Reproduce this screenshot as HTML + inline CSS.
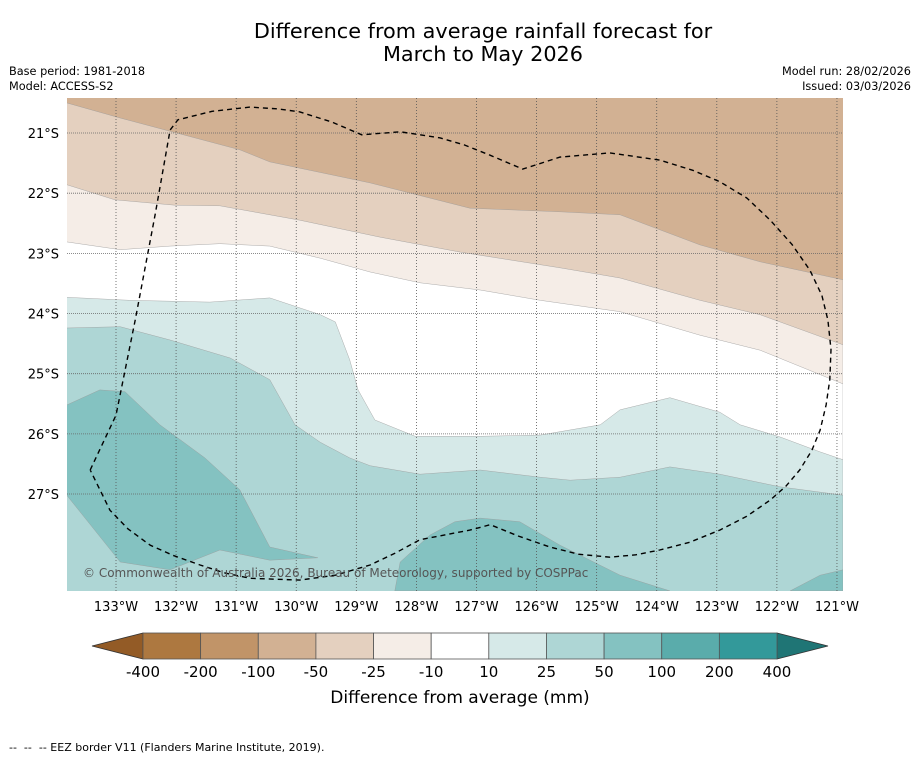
<!DOCTYPE html>
<html><head><meta charset="utf-8"><style>
body{margin:0;background:#fff;width:919px;height:758px;overflow:hidden;font-family:"DejaVu Sans","Liberation Sans",sans-serif}
svg{display:block}
</style></head><body>
<svg id="svg" width="919" height="758" xmlns="http://www.w3.org/2000/svg">
<text x="483" y="38" text-anchor="middle" font-size="20.8">Difference from average rainfall forecast for</text>
<text x="483" y="61" text-anchor="middle" font-size="20.8">March to May 2026</text>
<text x="9" y="75" font-size="11.3">Base period: 1981-2018</text>
<text x="9" y="90" font-size="11.3">Model: ACCESS-S2</text>
<text x="911" y="75" font-size="11.3" text-anchor="end">Model run: 28/02/2026</text>
<text x="911" y="90" font-size="11.3" text-anchor="end">Issued: 03/03/2026</text>
<defs><clipPath id="mapclip"><rect x="67" y="98" width="776" height="493"/></clipPath></defs>
<g id="map" clip-path="url(#mapclip)"></g>
<g id="axes"></g>
<g id="cbar"></g>
<text x="460" y="703" text-anchor="middle" font-size="17">Difference from average (mm)</text>
<text x="9" y="751" font-size="11" xml:space="preserve">--  --  -- EEZ border V11 (Flanders Marine Institute, 2019).</text>
</svg>
<script>
const lonTicks=[133,132,131,130,129,128,127,126,125,124,123,122,121];
const latTicks=[21,22,23,24,25,26,27];
const boundary1=[[133.82,20.50],[132.93,20.75],[130.94,21.28],[130.44,21.48],[128.77,21.83],[127.11,22.25],[125.61,22.31],[124.61,22.36],[123.28,22.86],[122.28,23.14],[120.90,23.44]];
const boundary2=[[133.82,21.86],[133.02,22.11],[132.02,22.20],[131.27,22.21],[129.94,22.45],[128.61,22.73],[127.27,22.98],[125.61,23.24],[124.61,23.41],[123.28,23.78],[122.28,24.02],[120.90,24.52]];
const boundary3=[[133.82,22.81],[132.93,22.94],[132.10,22.88],[131.27,22.84],[130.44,22.88],[129.60,23.08],[128.77,23.31],[127.94,23.49],[126.94,23.61],[125.94,23.78],[124.61,23.97],[123.28,24.36],[122.28,24.61],[120.90,25.17]];
const boundary4=[[133.82,23.73],[132.77,23.78],[131.44,23.81],[130.44,23.74],[129.60,24.02],[129.35,24.14],[129.11,24.77],[128.97,25.27],[128.69,25.77],[128.02,26.04],[126.94,26.04],[125.94,26.02],[124.94,25.85],[124.61,25.60],[123.78,25.40],[122.95,25.64],[122.61,25.85],[121.95,26.05],[121.28,26.30],[120.90,26.43]];
const boundary5=[[133.82,24.24],[132.93,24.22],[132.10,24.44],[131.10,24.74],[130.44,25.10],[130.02,25.85],[129.60,26.14],[129.11,26.40],[128.77,26.53],[127.94,26.67],[126.94,26.60],[125.94,26.72],[125.44,26.77],[124.61,26.72],[123.78,26.55],[122.95,26.67],[121.95,26.88],[120.90,27.02]];
const blobA=[[133.82,25.52],[133.27,25.27],[132.85,25.30],[132.27,25.85],[131.52,26.40],[130.94,26.93],[130.44,27.88],[129.64,28.06],[130.44,28.10],[131.27,27.93],[132.10,28.26],[132.93,28.13],[133.82,27.02]];
const blobB=[[128.36,28.61],[128.27,28.13],[127.77,27.68],[127.36,27.46],[126.94,27.40],[126.28,27.46],[125.61,27.85],[124.61,28.35],[123.78,28.61]];
const blobC=[[121.78,28.61],[121.28,28.35],[120.90,28.26],[120.90,28.61]];
const eez=[[133.43,26.60],[133.00,25.69],[132.68,24.11],[132.35,22.36],[132.10,20.95],[131.97,20.78],[131.40,20.64],[130.77,20.57],[130.30,20.60],[129.94,20.65],[129.40,20.82],[128.91,21.03],[128.27,20.98],[127.61,21.08],[127.20,21.20],[126.77,21.37],[126.23,21.60],[125.61,21.40],[124.78,21.33],[123.95,21.45],[123.40,21.62],[122.95,21.81],[122.50,22.08],[122.11,22.45],[121.75,22.85],[121.45,23.28],[121.25,23.70],[121.15,24.11],[121.10,24.60],[121.12,25.10],[121.18,25.52],[121.28,25.94],[121.42,26.28],[121.62,26.60],[121.85,26.87],[122.11,27.10],[122.50,27.37],[122.95,27.60],[123.45,27.80],[123.95,27.93],[124.35,28.01],[124.78,28.05],[125.30,28.00],[125.78,27.88],[126.30,27.70],[126.77,27.51],[127.11,27.60],[127.94,27.76],[128.35,27.98],[128.77,28.18],[129.35,28.35],[129.94,28.43],[130.77,28.40],[131.20,28.31],[131.60,28.18],[132.05,28.02],[132.43,27.85],[132.80,27.58],[133.10,27.27],[133.43,26.60]];
const cbLabels=["-400","-200","-100","-50","-25","-10","10","25","50","100","200","400"];
const cbColors=["#ad7840","#c19468","#d2b193","#e4d0bf","#f5ede7","#ffffff","#d6e9e8","#aed6d5","#84c2c1","#5aacab","#33999a"];
const NS="http://www.w3.org/2000/svg";
function sx(lonW){return 116+(133-lonW)*60.08;}
function sy(latS){return 133+(latS-21)*60.17;}
function mk(tag,attrs,parent){const e=document.createElementNS(NS,tag);for(const k in attrs)e.setAttribute(k,attrs[k]);parent.appendChild(e);return e;}
function pts(a){return a.map(p=>sx(p[0]).toFixed(1)+","+sy(p[1]).toFixed(1)).join(" ");}
const map=document.getElementById('map');
let r=mk('rect',{x:67,y:98,width:776,height:493,fill:"#d2b193"},map);


const bands=[[boundary1,"#e4d0bf","band-minus50-minus25"],[boundary2,"#f5ede7","band-minus25-minus10"],[boundary3,"#ffffff","band-neutral"],[boundary4,"#d6e9e8","band-10-25"],[boundary5,"#aed6d5","band-25-50"]];
bands.forEach(b=>{
  const p=mk('polygon',{points:pts(b[0])+" "+sx(120.9)+","+sy(28.7)+" "+sx(133.82)+","+sy(28.7),fill:b[1],stroke:"#999",'stroke-width':0.4},map);
  
  
});
[blobA,blobB,blobC].forEach((b,i)=>{
  const p=mk('polygon',{points:pts(b),fill:"#84c2c1",stroke:"#999",'stroke-width':0.4},map);
  
  
});
lonTicks.forEach(l=>{const e=mk('line',{x1:sx(l),x2:sx(l),y1:98,y2:591,stroke:"#555",'stroke-width':0.8,'stroke-dasharray':"1,2"},map);
  
  });
latTicks.forEach(l=>{const e=mk('line',{x1:67,x2:843,y1:sy(l),y2:sy(l),stroke:"#666",'stroke-width':0.8,'stroke-dasharray':"1,1"},map);
  
  });
const ez=mk('polyline',{points:pts(eez),fill:"none",stroke:"#000",'stroke-width':1.4,'stroke-dasharray':"5,4",'stroke-linejoin':'round'},map);


const cp=mk('text',{x:83,y:577,'font-size':12,fill:"#555"},map);
cp.textContent="© Commonwealth of Australia 2026, Bureau of Meteorology, supported by COSPPac";


const axes=document.getElementById('axes');
lonTicks.forEach(l=>{const t=mk('text',{x:sx(l),y:611,'font-size':13,'text-anchor':'middle'},axes);t.textContent=l+"°W";
  
  });
latTicks.forEach(l=>{const t=mk('text',{x:59,y:sy(l)+5,'font-size':13,'text-anchor':'end'},axes);t.textContent=l+"°S";
  
  });
const cb=document.getElementById('cbar');
const x0=143,x1=777,w=(x1-x0)/cbColors.length,yT=633,yB=659;
const lt=mk('polygon',{points:`92,646 ${x0},${yT} ${x0},${yB}`,fill:"#935b26",stroke:"#333",'stroke-width':0.8},cb);


const rt=mk('polygon',{points:`828,646 ${x1},${yT} ${x1},${yB}`,fill:"#1f7575",stroke:"#333",'stroke-width':0.8},cb);


cbColors.forEach((c,i)=>{const e=mk('rect',{x:x0+i*w,y:yT,width:w,height:yB-yT,fill:c,stroke:"#555",'stroke-width':0.8},cb);
  
  });
cbLabels.forEach((s,i)=>{const t=mk('text',{x:x0+i*w,y:677,'font-size':15,'text-anchor':'middle'},cb);t.textContent=s;
  
  });
</script>
</body></html>
